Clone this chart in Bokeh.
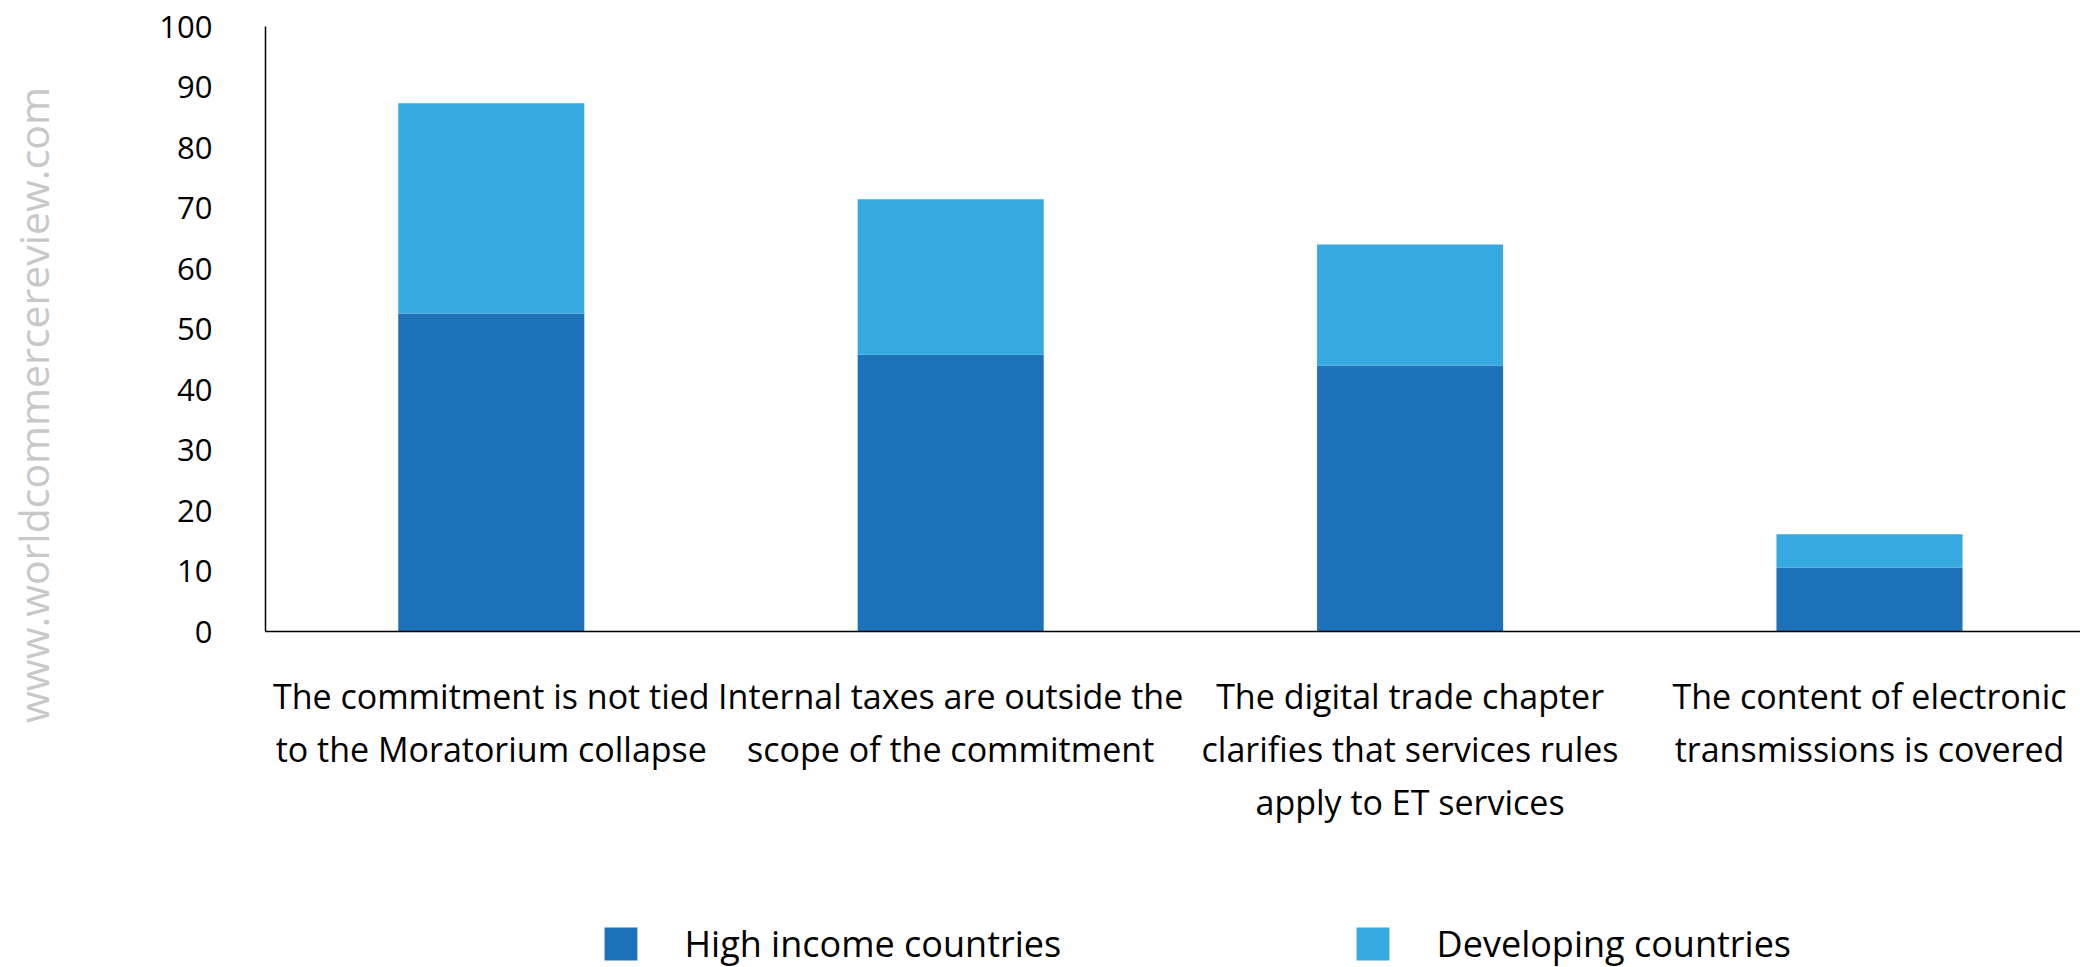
import math
from bokeh.plotting import figure
from bokeh.models import (ColumnDataSource, Range1d, FixedTicker, Legend, LegendItem, Label)
from bokeh.embed import file_html
from bokeh.resources import INLINE

categories = [
    "The commitment is not tied\nto the Moratorium collapse",
    "Internal taxes are outside the\nscope of the commitment",
    "The digital trade chapter\nclarifies that services rules\napply to ET services",
    "The content of electronic\ntransmissions is covered",
]
high_income = [52.6, 45.8, 44.0, 10.6]
developing = [34.8, 25.7, 20.0, 5.5]
series_names = ["High income countries", "Developing countries"]
colors = ["#1D71B8", "#36A9E1"]
y_ticks = [0, 10, 20, 30, 40, 50, 60, 70, 80, 90, 100]

FONT = "Open Sans"

xpos = list(range(len(categories)))
source = ColumnDataSource(dict(x=xpos, high=high_income, dev=developing))

# frame covers the whole canvas; axes are pinned at fixed locations
X0, X1 = -1.0683, 3.4593
Y0, Y1 = -55.58, 104.38
AX_X = -0.4915  # where the value axis sits

p = figure(width=2080, height=967, output_backend="svg", toolbar_location=None,
           x_range=Range1d(X0, X1), y_range=Range1d(Y0, Y1),
           min_border_left=0, min_border_right=0, min_border_top=0,
           min_border_bottom=0)
p.outline_line_color = None
p.xgrid.visible = False
p.ygrid.visible = False
p.background_fill_color = "white"
p.border_fill_color = "white"

renderers = p.vbar_stack(["high", "dev"], x="x", width=0.405, source=source,
                         color=colors, line_color=None)

# category axis
xa = p.xaxis[0]
xa.fixed_location = 0
xa.bounds = (AX_X, X1)
xa.ticker = FixedTicker(ticks=xpos)
xa.major_label_overrides = {i: c for i, c in zip(xpos, categories)}
xa.major_tick_line_color = None
xa.minor_tick_line_color = None
xa.major_tick_out = 0
xa.major_tick_in = 0
xa.axis_line_color = "#000000"
xa.axis_line_width = 1.5
xa.major_label_standoff = 41
xa.major_label_text_font = FONT
xa.major_label_text_font_size = "34px"
xa.major_label_text_color = "#000000"
xa.major_label_text_line_height = 1.16

# value axis
ya = p.yaxis[0]
ya.fixed_location = AX_X
ya.bounds = (0, 100)
ya.ticker = FixedTicker(ticks=y_ticks)
ya.major_tick_line_color = None
ya.minor_tick_line_color = None
ya.major_tick_out = 0
ya.major_tick_in = 0
ya.axis_line_color = "#000000"
ya.axis_line_width = 1.5
ya.major_label_standoff = 53
ya.major_label_text_font = FONT
ya.major_label_text_font_size = "31px"
ya.major_label_text_color = "#000000"

# legends (one per series, placed side by side below the labels)
for i, (name, r) in enumerate(zip(series_names, renderers)):
    lg = Legend(items=[LegendItem(label=name, renderers=[r])],
                location=(599.5 if i == 0 else 1351.6, -1),
                orientation="horizontal")
    lg.padding = 0
    lg.margin = 0
    lg.border_line_alpha = 0
    lg.background_fill_alpha = 0
    lg.glyph_width = 41
    lg.glyph_height = 41
    lg.label_standoff = 44
    lg.label_height = 41
    lg.label_text_font = FONT
    lg.label_text_font_size = "36px"
    lg.label_text_line_height = 1.0
    lg.label_text_color = "#000000"
    p.add_layout(lg, "center")

wm = Label(x=32, y=562.5, x_units="screen", y_units="screen",
           text="www.worldcommercereview.com", angle=math.pi / 2,
           text_align="center", text_baseline="middle",
           text_font=FONT, text_font_size="41px", text_color="#C8C8C8")
p.add_layout(wm)

open("out.html", "w").write(file_html(p, INLINE))
